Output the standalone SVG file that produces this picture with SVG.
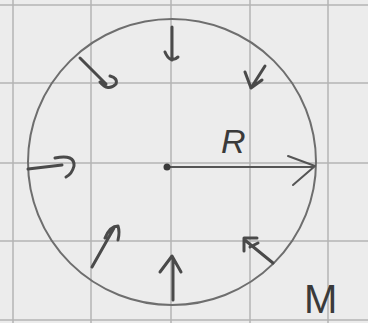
<svg xmlns="http://www.w3.org/2000/svg" width="368" height="323" viewBox="0 0 368 323">
<style>
.grid{stroke:#b4b4b4;stroke-width:1.5;fill:none}
.ink{stroke:#4a4a4a;stroke-width:3;fill:none;stroke-linecap:round;stroke-linejoin:round}
.thin{stroke:#555;stroke-width:2;fill:none;stroke-linecap:round;stroke-linejoin:round}
.lbl{font-family:"Liberation Sans",Arial,sans-serif;fill:#3a3a3a}
</style>
<rect width="368" height="323" fill="#ececec"/>
<g id="grid">
<path class="grid" d="M13 0V323M91 0V323M171 0V323M250 0V323M328 0V323M0 5H368M0 83H368M0 163H368M0 241H368M0 320H368"/>
</g>
<g id="circle">
<ellipse cx="172" cy="162" rx="144" ry="143" stroke="#6e6e6e" stroke-width="2" fill="none"/>
</g>
<g id="connectors">
<path class="ink" d="M172 27V60M165 52Q170 64 178 57"/>
<path class="ink" d="M80 58L106 84M100 82Q108 92 116 84Q118 78 110 76"/>
<path class="ink" d="M265 66L251 88M245 72L251 88L262 80"/>
<path class="ink" d="M28 169L62 165M55 158Q75 154 74 166Q72 174 66 177"/>
<path class="ink" d="M92 267L114 228M105 238Q110 226 118 226Q120 232 118 240"/>
<path class="ink" d="M173 300V258M160 272L172 256L181 272"/>
<path class="ink" d="M273 263L246 241M244 251L244 238L257 238M250 247L258 243"/>
<path class="thin" d="M167 167H314M288 156L315 166L293 185"/>
<circle cx="167" cy="167" r="3.5" fill="#3a3a3a"/>
</g>
<g id="labels">
<text class="lbl" x="221" y="153" font-size="34" style="font-style:italic">R</text>
<text class="lbl" x="304" y="313" font-size="40">M</text>
</g>
</svg>
